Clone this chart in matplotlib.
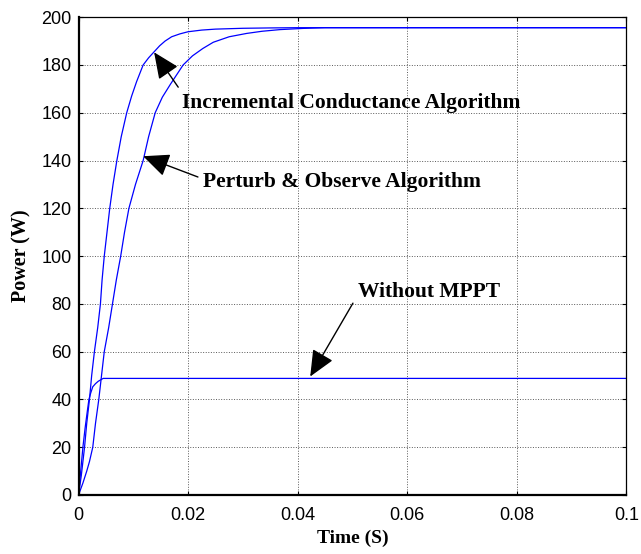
import matplotlib
matplotlib.use("Agg")
import matplotlib.pyplot as plt

# curvas (tempo em s, potencia em W)
t_ic = [0, 0.0005, 0.0011, 0.0015, 0.0020, 0.0024, 0.0029, 0.0035, 0.0040, 0.0043, 0.0047,
        0.0052, 0.0057, 0.0063, 0.0070, 0.0078, 0.0088, 0.0097, 0.0106, 0.0118, 0.0128,
        0.0138, 0.0148, 0.0158, 0.0170, 0.0185, 0.0200, 0.0225, 0.025, 0.030, 0.035, 0.040, 0.1]
p_ic = [0, 8, 20, 30, 40, 50, 60, 70, 80, 90, 100,
        110, 120, 130, 140, 150, 160, 167, 173, 180, 183,
        185.5, 188, 190, 191.8, 193, 193.9, 194.6, 195.0, 195.35, 195.5, 195.6, 195.6]

t_po = [0, 0.0008, 0.0015, 0.0020, 0.0026, 0.0031, 0.0037, 0.0042, 0.0047, 0.0055, 0.0062,
        0.0069, 0.0077, 0.0084, 0.0092, 0.0104, 0.0118, 0.0128, 0.0140, 0.0153, 0.0168,
        0.0191, 0.0208, 0.0227, 0.0246, 0.0275, 0.0307, 0.0335, 0.0368, 0.041, 0.045, 0.1]
p_po = [0, 5, 10, 14, 20, 30, 40, 50, 60, 70, 80,
        90, 100, 110, 120, 130, 140, 150, 160, 166.5, 172,
        180, 183.8, 186.9, 189.5, 191.8, 193.2, 194.1, 194.8, 195.3, 195.6, 195.6]

t_wo = [0, 0.0004, 0.0008, 0.0012, 0.0016, 0.0019, 0.0022, 0.0026, 0.0031, 0.0036, 0.0045, 0.1]
p_wo = [0, 10, 20, 28, 35, 40, 42.5, 45.3, 46.6, 47.6, 48.8, 48.8]

xticks = [0, 0.02, 0.04, 0.06, 0.08, 0.1]
xtick_labels = ["0", "0.02", "0.04", "0.06", "0.08", "0.1"]
yticks = [0, 20, 40, 60, 80, 100, 120, 140, 160, 180, 200]

fig = plt.figure(figsize=(6.41, 5.54), dpi=100)
ax = fig.add_axes([0.1225, 0.1065, 0.8545, 0.8625])

for t, p in [(t_ic, p_ic), (t_po, p_po), (t_wo, p_wo)]:
    ax.plot(t, p, color=(0, 0, 1), lw=0.9)

ax.set_xlim(0, 0.1)
ax.set_ylim(0, 200)
ax.set_xticks(xticks)
ax.set_xticklabels(xtick_labels)
ax.set_yticks(yticks)
ax.grid(True, color="0.35", linestyle=":", lw=0.7)
ax.tick_params(direction="in", length=3, top=True, right=True, labelsize=13)
ax.tick_params(axis="x", pad=9)
ax.tick_params(axis="y", pad=5)
for lab in ax.get_xticklabels() + ax.get_yticklabels():
    lab.set_family("Liberation Sans")
for s in ["bottom", "left"]:
    ax.spines[s].set_linewidth(1.6)
for s in ["top", "right"]:
    ax.spines[s].set_linewidth(0.9)

serif = dict(family="Liberation Serif", weight="bold")
ax.set_xlabel("Time (S)", fontsize=14, labelpad=4, **serif)
ax.set_ylabel("Power (W)", fontsize=14.5, labelpad=7, **serif)

# setas + textos
arrow = dict(arrowstyle="-|>,head_length=0.9,head_width=0.4", color="k", lw=1,
             mutation_scale=18, shrinkA=0, shrinkB=0)
ax.annotate("", xy=(0.0138, 185.3), xytext=(0.0182, 170.7), arrowprops=arrow)
ax.annotate("", xy=(0.0118, 141.8), xytext=(0.0218, 133.1), arrowprops=arrow)
ax.annotate("", xy=(0.0423, 49.6), xytext=(0.0501, 80.3), arrowprops=arrow)

ax.text(0.0189, 164.0, "Incremental Conductance Algorithm", fontsize=15.5, va="center", **serif)
ax.text(0.0227, 131.0, "Perturb & Observe Algorithm", fontsize=15.5, va="center", **serif)
ax.text(0.0511, 84.9, "Without MPPT", fontsize=15.5, va="center", **serif)

fig.savefig("out.png", dpi=100)
